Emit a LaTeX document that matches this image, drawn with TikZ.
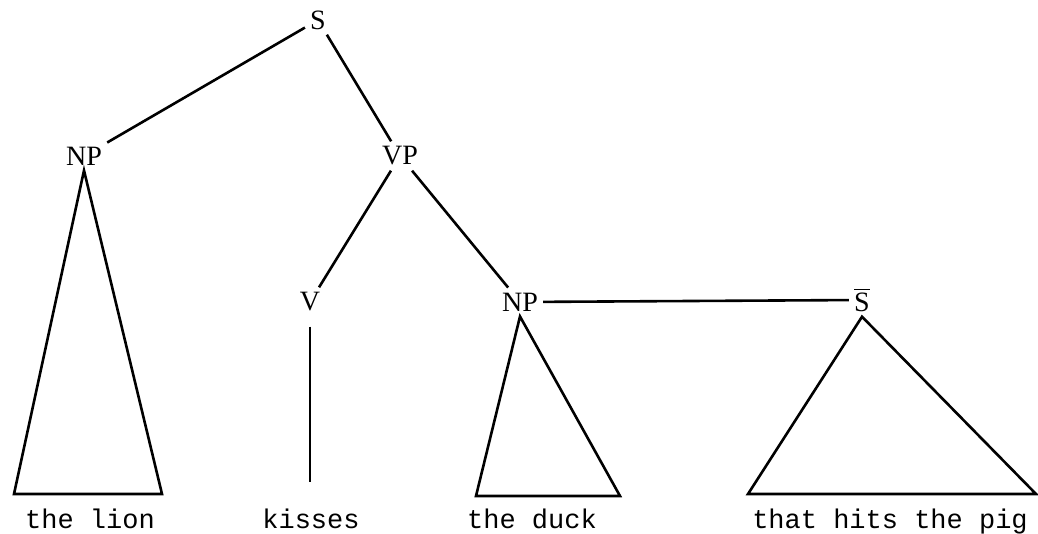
\documentclass[tikz,border=0pt]{standalone}
\usepackage{fontspec}
\setmainfont{Liberation Serif}
\setmonofont{Liberation Mono}
\begin{document}
\begin{tikzpicture}[
		x=0.5pt, y=-0.5pt,
		line width=1.3pt,
		cat/.style={inner sep=2pt, font=\fontsize{14}{16}\selectfont},
		word/.style={inner sep=1pt, anchor=base, font=\ttfamily\fontsize{13.5}{15}\selectfont}
		]
		\useasboundingbox (0,0) rectangle (1038,534);
		% categories
		\node[cat] (s) at (318,20) {S};
		\node[cat] (np1) at (84,156) {NP};
		\node[cat] (vp) at (400,156) {VP};
		\node[cat] (v) at (310,302) {V};
		\node[cat] (np2) at (520,302) {NP};
		\node[cat] (sbar) at (862,300) {$\overline{\mbox{S}}$};
		
		% words
		\node[word] (lion) at (90,528) {the lion};
		\node[word] (kisses) at (311,528) {kisses};
		\node[word] (duck) at (532,528) {the duck};
		\node[word] (pig) at (890,528) {that hits the pig};
		
		% base corners
		\coordinate (np1l) at (14,494);
		\coordinate (np1r) at (162,494);
		\coordinate (vbot) at (310,482);
		\coordinate (np2l) at (476,496);
		\coordinate (np2r) at (620,496);
		\coordinate (sbarl) at (748,494);
		\coordinate (sbarr) at (1036,494);
		
		\draw (s) -- (np1);
		\draw (s) -- (vp);
		\draw (vp) -- (v);
		\draw (vp) -- (np2);
		\draw (np2) -- (sbar);
		
		\draw (np1.south) -- (np1l) -- (np1r) -- cycle;
		\draw (v.south) ++(0,10) -- (vbot);
		\draw (np2.south) -- (np2l) -- (np2r) -- cycle;
		\draw (sbar.south) -- (sbarl) -- (sbarr) -- cycle;
	\end{tikzpicture}
\end{document}
